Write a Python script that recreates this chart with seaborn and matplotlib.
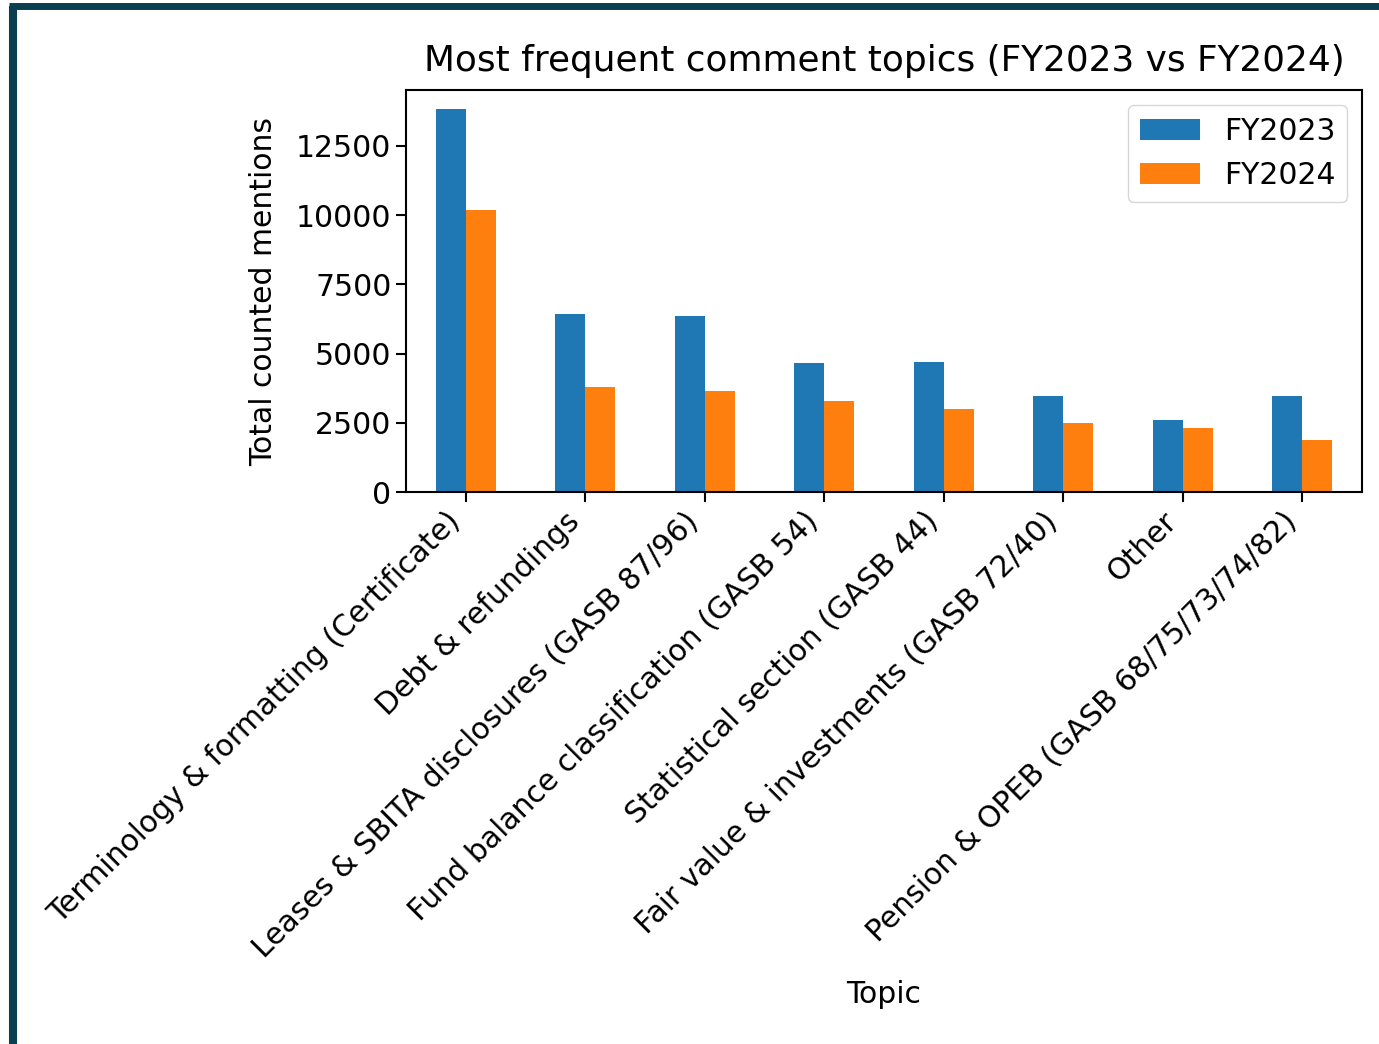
import pandas as pd
import seaborn as sns
import matplotlib.pyplot as plt
from matplotlib.lines import Line2D

topics = [
    'Terminology & formatting (Certificate)',
    'Debt & refundings',
    'Leases & SBITA disclosures (GASB 87/96)',
    'Fund balance classification (GASB 54)',
    'Statistical section (GASB 44)',
    'Fair value & investments (GASB 72/40)',
    'Other',
    'Pension & OPEB (GASB 68/75/73/74/82)',
]
fy2023 = [13830, 6430, 6350, 4650, 4680, 3480, 2590, 3480]
fy2024 = [10180, 3790, 3650, 3290, 2990, 2480, 2320, 1890]
years = ['FY2023', 'FY2024']

df = pd.DataFrame({'Topic': topics, 'FY2023': fy2023, 'FY2024': fy2024})
long_df = df.melt(id_vars='Topic', value_vars=years, var_name='Year', value_name='Mentions')

plt.rcParams['font.family'] = ['DejaVu Sans']
plt.rcParams['font.size'] = 21.5

fig = plt.figure(figsize=(13.79, 10.44), dpi=100)
ax = fig.add_axes([0.2944, 0.5287, 0.6933, 0.3851])

sns.barplot(
    data=long_df, x='Topic', y='Mentions', hue='Year',
    palette=['#1f77b4', '#ff7f0e'], width=0.5, saturation=1,
    errorbar=None, ax=ax
)

ax.set_title('Most frequent comment topics (FY2023 vs FY2024)', fontsize=25.8, pad=14)
ax.set_xlabel('Topic', fontsize=21.5, labelpad=12)
ax.set_ylabel('Total counted mentions', fontsize=21.5, labelpad=13)
ax.set_yticks([0, 2500, 5000, 7500, 10000, 12500])
plt.setp(ax.get_xticklabels(), rotation=45, ha='right')
ax.tick_params(labelsize=21.5, width=1.5, length=7)
for s in ax.spines.values():
    s.set_linewidth(1.5)
ax.legend(title=None, fontsize=21.5)

# frame from the screenshot
col = '#0a3f4f'
fig.add_artist(Line2D([0.00943, 0.00943], [0, 0.9938], transform=fig.transFigure, color=col, lw=5.8, solid_capstyle='butt'))
fig.add_artist(Line2D([0.0065, 1.0], [0.9938, 0.9938], transform=fig.transFigure, color=col, lw=5.0, solid_capstyle='butt'))

fig.savefig('out.png', dpi=100)
